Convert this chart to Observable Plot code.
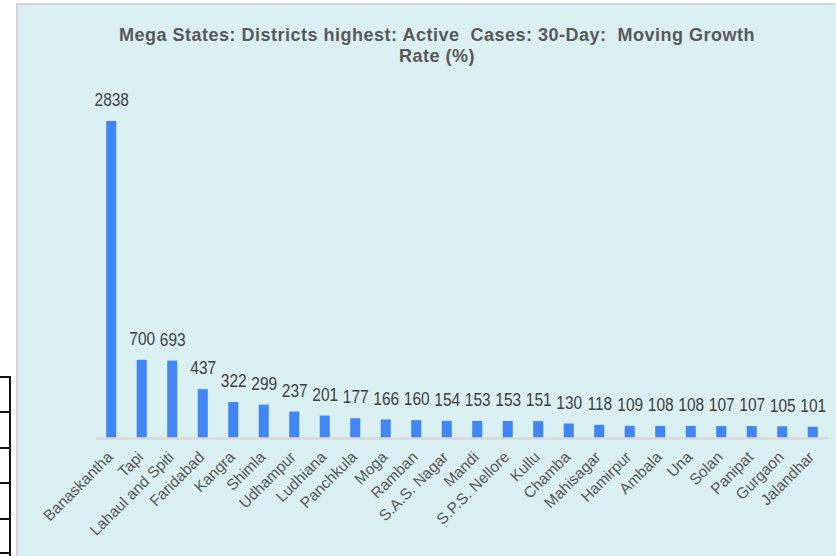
<!DOCTYPE html>
<html>
<head>
<meta charset="utf-8">
<script src="https://cdn.jsdelivr.net/npm/d3@7"></script>
<script src="https://cdn.jsdelivr.net/npm/@observablehq/plot@0.6"></script>
<style>
  html, body { margin: 0; padding: 0; background: #ffffff; width: 836px; height: 556px; overflow: hidden; }
  #frame { position: absolute; left: 16px; top: 3px; width: 818px; height: 551px; background: #daf0f3;
           border-left: 2px solid #d6d6d6; border-top: 2px solid #d6d6d6; }
  #title { position: absolute; left: 87px; width: 700px; top: 25px; text-align: center; white-space: pre;
           font-family: "Liberation Sans", Arial, sans-serif; font-weight: bold; font-size: 18px;
           letter-spacing: 0.5px; line-height: 21px; color: #595959; }
  #chart { position: absolute; left: 0; top: 0; }
  .hl { position: absolute; left: 0; width: 11px; height: 2px; background: #111; }
  .vl { position: absolute; left: 9px; width: 2px; top: 376px; height: 180px; background: #111; }
</style>
</head>
<body>
<div id="frame"></div>
<div class="vl"></div>
<div class="hl" style="top:376px"></div>
<div class="hl" style="top:411px"></div>
<div class="hl" style="top:447px"></div>
<div class="hl" style="top:482px"></div>
<div class="hl" style="top:518px"></div>
<div class="hl" style="top:552px"></div>
<div id="title">Mega States: Districts highest: Active  Cases: 30-Day:  Moving Growth<br>Rate (%)</div>
<div id="chart"></div>
<script>
const districts = ["Banaskantha", "Tapi", "Lahaul and Spiti", "Faridabad", "Kangra", "Shimla", "Udhampur",
  "Ludhiana", "Panchkula", "Moga", "Ramban", "S.A.S. Nagar", "Mandi", "S.P.S. Nellore", "Kullu", "Chamba",
  "Mahisagar", "Hamirpur", "Ambala", "Una", "Solan", "Panipat", "Gurgaon", "Jalandhar"];
const growthRates = [2838, 700, 693, 437, 322, 299, 237, 201, 177, 166, 160, 154, 153, 153, 151, 130,
  118, 109, 108, 108, 107, 107, 105, 101];

const data = districts.map((d, i) => ({district: d, value: growthRates[i]}));

const chart = Plot.plot({
  width: 836,
  height: 556,
  marginLeft: 96,
  marginRight: 8,
  marginTop: 121,
  marginBottom: 118,
  x: {domain: districts, paddingInner: 0.67, paddingOuter: 0.335, round: false, axis: null},
  y: {domain: [0, d3.max(growthRates)], axis: null},
  style: {background: "transparent", fontFamily: "'Liberation Sans', Arial, sans-serif"},
  marks: [
    Plot.barY(data, {x: "district", y: "value", fill: "#4285f4"}),
    Plot.ruleY([0], {stroke: "#d9d9d9", strokeWidth: 2.5}),
    Plot.text(data, {x: "district", y: "value", text: d => String(d.value), dy: -21, fontSize: 18, fill: "#404040"}),
    Plot.text(data, {x: "district", y: () => 0, text: "district", rotate: -45, textAnchor: "end",
      dx: -1.5, dy: 16, fontSize: 15.5, fill: "#595959"})
  ]
});
document.getElementById("chart").appendChild(chart);
// emulate the condensed face of the original value labels
d3.select(chart).selectAll("text").each(function() {
  const t = this.getAttribute("transform") || "";
  if (t.includes("rotate")) return;
  const w = this.getComputedTextLength();
  if (w > 0) {
    this.setAttribute("textLength", (w * 0.86).toFixed(2));
    this.setAttribute("lengthAdjust", "spacingAndGlyphs");
  }
});
</script>
</body>
</html>
